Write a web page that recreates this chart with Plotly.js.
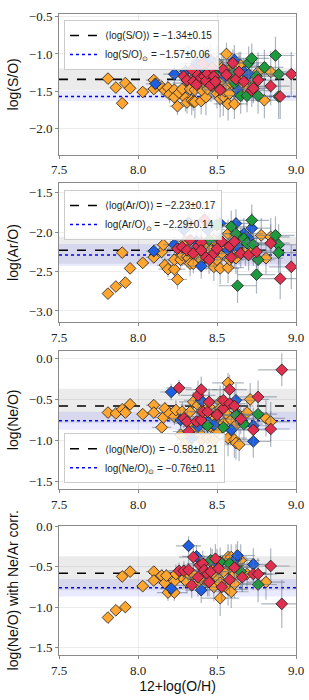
<!DOCTYPE html>
<html><head><meta charset="utf-8">
<script src="https://cdn.plot.ly/plotly-3.0.1.min.js"></script>
<style>html,body{margin:0;padding:0;background:#fff;}#plot{width:309px;height:700px;}</style>
</head><body><div id="plot"></div>
<script>
// ---------- data: rows are [12+log(O/H), log ratio, x error, y error] ----------
const s_orange = [[7.81,-1.33,0.03,0.04],[7.86,-1.45,0.03,0.04],[7.90,-1.66,0.03,0.05],[7.92,-1.39,0.03,0.04],[7.95,-1.46,0.03,0.04],[8.03,-1.51,0.04,0.05],[8.10,-1.35,0.05,0.06],[8.10,-1.47,0.05,0.06],[8.15,-1.44,0.06,0.08],[8.17,-1.49,0.05,0.07],[8.19,-1.45,0.07,0.10],[8.20,-1.54,0.06,0.12],[8.23,-1.48,0.08,0.10],[8.23,-1.58,0.06,0.15],[8.25,-1.70,0.05,0.12],[8.26,-1.52,0.07,0.10],[8.28,-1.47,0.10,0.12],[8.30,-1.59,0.08,0.18],[8.31,-1.65,0.06,0.15],[8.32,-1.39,0.10,0.20],[8.33,-1.47,0.09,0.14],[8.34,-1.62,0.07,0.20],[8.34,-1.35,0.08,0.15],[8.35,-1.64,0.06,0.12],[8.36,-1.64,0.08,0.22],[8.36,-1.48,0.10,0.16],[8.38,-1.26,0.12,0.20],[8.40,-1.63,0.07,0.18],[8.40,-1.34,0.09,0.15],[8.41,-1.50,0.08,0.12],[8.42,-1.39,0.11,0.18],[8.43,-1.58,0.09,0.24],[8.44,-1.47,0.08,0.14],[8.45,-1.25,0.10,0.16],[8.46,-1.30,0.12,0.20],[8.47,-1.42,0.09,0.15],[8.48,-1.15,0.10,0.18],[8.48,-1.39,0.11,0.22],[8.49,-1.30,0.08,0.14],[8.50,-1.53,0.09,0.20],[8.50,-1.11,0.12,0.22],[8.51,-1.35,0.10,0.18],[8.51,-1.25,0.09,0.16],[8.52,-1.46,0.11,0.22],[8.52,-1.60,0.08,0.25],[8.53,-1.19,0.10,0.16],[8.54,-1.57,0.12,0.26],[8.54,-1.36,0.09,0.15],[8.55,-1.50,0.10,0.20],[8.56,-1.00,0.08,0.15],[8.57,-1.42,0.12,0.24],[8.57,-1.23,0.10,0.18],[8.57,-1.67,0.09,0.22],[8.58,-1.53,0.11,0.20],[8.59,-1.39,0.10,0.18],[8.60,-1.30,0.12,0.22],[8.61,-1.21,0.10,0.16],[8.61,-1.35,0.13,0.24],[8.61,-1.67,0.08,0.20],[8.62,-1.46,0.11,0.22],[8.62,-1.28,0.09,0.16],[8.64,-1.17,0.12,0.20],[8.65,-1.39,0.10,0.22],[8.65,-1.15,0.11,0.18],[8.66,-1.28,0.09,0.16],[8.66,-1.40,0.12,0.24],[8.68,-1.37,0.10,0.20],[8.69,-1.47,0.11,0.22],[8.70,-1.28,0.12,0.24],[8.73,-1.44,0.10,0.20],[8.76,-1.24,0.12,0.26],[8.80,-1.62,0.10,0.24],[8.84,-1.24,0.12,0.28]];
const s_blue = [[8.11,-1.40,0.06,0.08],[8.23,-1.27,0.07,0.12],[8.30,-1.23,0.09,0.14],[8.37,-1.13,0.10,0.18],[8.40,-1.20,0.08,0.16],[8.42,-1.10,0.11,0.20],[8.44,-1.08,0.10,0.18],[8.46,-1.08,0.12,0.22],[8.49,-1.22,0.09,0.16],[8.55,-1.30,0.10,0.20],[8.61,-1.08,0.12,0.20],[8.63,-1.48,0.10,0.22],[8.67,-1.24,0.11,0.18],[8.70,-1.27,0.12,0.20]];
const s_blue_faint = [[8.32,-0.96,0,0]];
const s_green = [[8.46,-1.21,0.10,0.16],[8.48,-1.26,0.09,0.18],[8.60,-1.26,0.11,0.20],[8.61,-1.39,0.10,0.22],[8.65,-1.56,0.12,0.24],[8.69,-1.56,0.10,0.22],[8.70,-1.12,0.12,0.22],[8.72,-1.06,0.11,0.20],[8.75,-1.30,0.12,0.22],[8.76,-1.56,0.11,0.24],[8.80,-1.18,0.12,0.24],[8.87,-1.02,0.12,0.25],[8.89,-1.27,0.12,0.28],[8.89,-1.57,0.13,0.30]];
const s_red = [[8.29,-1.30,0.08,0.12],[8.31,-1.35,0.09,0.14],[8.34,-1.21,0.10,0.16],[8.35,-1.37,0.08,0.14],[8.37,-1.41,0.09,0.16],[8.38,-1.28,0.10,0.18],[8.40,-1.32,0.09,0.16],[8.41,-1.13,0.11,0.20],[8.42,-1.30,0.10,0.18],[8.43,-1.36,0.09,0.16],[8.44,-1.26,0.11,0.18],[8.46,-1.42,0.10,0.20],[8.47,-1.19,0.12,0.20],[8.48,-1.30,0.09,0.16],[8.49,-1.37,0.10,0.18],[8.52,-1.48,0.11,0.22],[8.54,-1.21,0.10,0.18],[8.56,-1.28,0.12,0.20],[8.60,-1.12,0.11,0.18],[8.62,-1.34,0.10,0.20],[8.64,-1.24,0.12,0.22],[8.67,-1.37,0.11,0.20],[8.72,-1.49,0.12,0.22],[8.73,-1.46,0.10,0.20],[8.76,-1.35,0.12,0.24],[8.84,-1.43,0.12,0.26],[8.90,-1.57,0.13,0.30],[8.97,-1.27,0.14,0.30]];

const a_orange = [[7.81,-2.78,0.03,0.06],[7.86,-2.69,0.03,0.05],[7.90,-2.26,0.03,0.05],[7.92,-2.64,0.03,0.05],[7.95,-2.46,0.03,0.05],[8.03,-2.39,0.04,0.06],[8.10,-2.32,0.05,0.07],[8.15,-2.25,0.06,0.08],[8.16,-2.16,0.06,0.08],[8.17,-2.42,0.05,0.10],[8.19,-2.47,0.06,0.10],[8.23,-2.47,0.07,0.12],[8.23,-2.35,0.08,0.10],[8.25,-2.60,0.06,0.12],[8.27,-2.35,0.08,0.12],[8.28,-2.29,0.09,0.14],[8.30,-2.12,0.10,0.12],[8.31,-2.31,0.08,0.14],[8.32,-2.33,0.09,0.12],[8.33,-2.40,0.08,0.16],[8.34,-2.27,0.10,0.14],[8.35,-2.40,0.09,0.12],[8.38,-2.31,0.10,0.16],[8.40,-2.35,0.08,0.14],[8.40,-2.18,0.11,0.16],[8.42,-2.25,0.09,0.14],[8.44,-2.16,0.10,0.16],[8.46,-2.31,0.11,0.18],[8.46,-2.23,0.09,0.14],[8.48,-2.44,0.10,0.18],[8.48,-2.10,0.11,0.16],[8.50,-2.35,0.09,0.16],[8.51,-2.16,0.10,0.14],[8.52,-2.46,0.12,0.20],[8.53,-2.27,0.10,0.16],[8.54,-2.18,0.11,0.18],[8.57,-2.45,0.10,0.20],[8.57,-2.02,0.12,0.18],[8.58,-2.35,0.09,0.16],[8.59,-2.25,0.11,0.18],[8.61,-2.29,0.10,0.16],[8.61,-2.21,0.12,0.18],[8.62,-2.33,0.10,0.20],[8.64,-2.23,0.11,0.18],[8.65,-2.14,0.12,0.20],[8.68,-2.25,0.10,0.18],[8.73,-2.23,0.12,0.20],[8.78,-2.04,0.12,0.22],[8.81,-2.33,0.11,0.20],[8.84,-2.06,0.12,0.24]];
const a_blue = [[8.10,-2.24,0.05,0.08],[8.23,-2.16,0.07,0.10],[8.29,-1.97,0.09,0.14],[8.32,-1.88,0.08,0.12],[8.37,-2.12,0.10,0.14],[8.40,-2.43,0.09,0.16],[8.44,-1.97,0.11,0.18],[8.45,-1.91,0.10,0.16],[8.52,-1.89,0.12,0.20],[8.57,-2.23,0.10,0.16],[8.62,-1.89,0.11,0.18],[8.63,-2.18,0.10,0.16],[8.67,-2.02,0.12,0.20],[8.70,-2.08,0.11,0.18],[8.72,-1.95,0.12,0.20]];
const a_green = [[8.45,-2.10,0.10,0.16],[8.50,-1.91,0.11,0.18],[8.52,-2.10,0.10,0.16],[8.59,-1.93,0.12,0.20],[8.62,-2.02,0.11,0.18],[8.63,-2.68,0.12,0.22],[8.67,-2.08,0.10,0.18],[8.69,-2.14,0.12,0.20],[8.72,-1.85,0.11,0.20],[8.73,-2.16,0.12,0.22],[8.75,-2.54,0.12,0.24],[8.76,-2.35,0.11,0.22],[8.87,-2.04,0.12,0.24],[8.89,-2.16,0.12,0.26],[8.89,-2.26,0.13,0.26]];
const a_red = [[8.25,-2.21,0.08,0.12],[8.28,-2.19,0.09,0.14],[8.31,-2.23,0.08,0.14],[8.33,-2.10,0.10,0.16],[8.35,-2.27,0.09,0.14],[8.38,-2.18,0.10,0.16],[8.40,-2.13,0.09,0.16],[8.40,-2.23,0.10,0.14],[8.42,-1.84,0.11,0.18],[8.43,-2.32,0.09,0.16],[8.45,-2.35,0.10,0.18],[8.48,-2.27,0.11,0.18],[8.50,-2.21,0.10,0.16],[8.53,-2.12,0.11,0.18],[8.58,-2.18,0.10,0.16],[8.59,-2.32,0.11,0.18],[8.61,-2.12,0.12,0.20],[8.65,-2.27,0.11,0.18],[8.70,-2.29,0.12,0.20],[8.75,-2.25,0.11,0.20],[8.84,-2.14,0.12,0.24],[8.90,-2.59,0.13,0.26],[8.97,-2.44,0.14,0.28]];

const n_orange = [[7.81,-0.66,0.03,0.04],[7.86,-0.67,0.03,0.04],[7.90,-0.62,0.03,0.04],[7.92,-0.66,0.03,0.04],[7.95,-0.56,0.03,0.04],[8.03,-0.68,0.04,0.05],[8.10,-0.57,0.05,0.06],[8.10,-0.66,0.05,0.06],[8.15,-0.84,0.06,0.08],[8.16,-0.72,0.06,0.07],[8.17,-0.61,0.06,0.08],[8.20,-0.67,0.07,0.10],[8.23,-0.71,0.08,0.10],[8.24,-0.63,0.07,0.12],[8.27,-0.93,0.08,0.14],[8.28,-0.65,0.09,0.12],[8.30,-1.04,0.07,0.14],[8.32,-0.79,0.09,0.16],[8.33,-0.65,0.10,0.14],[8.35,-0.53,0.09,0.12],[8.35,-0.87,0.10,0.16],[8.38,-0.57,0.11,0.16],[8.39,-0.91,0.09,0.18],[8.40,-0.99,0.10,0.20],[8.40,-0.65,0.09,0.14],[8.42,-0.79,0.10,0.16],[8.44,-0.97,0.11,0.20],[8.44,-0.71,0.10,0.16],[8.45,-0.59,0.11,0.18],[8.46,-0.83,0.10,0.18],[8.48,-0.99,0.12,0.20],[8.48,-0.75,0.09,0.16],[8.50,-0.89,0.11,0.18],[8.51,-0.65,0.10,0.16],[8.52,-0.53,0.12,0.20],[8.52,-0.61,0.10,0.16],[8.54,-0.79,0.11,0.18],[8.56,-0.67,0.10,0.16],[8.57,-0.97,0.12,0.22],[8.57,-0.30,0.10,0.12],[8.59,-0.75,0.11,0.18],[8.61,-0.99,0.12,0.22],[8.61,-0.83,0.10,0.18],[8.62,-1.03,0.11,0.20],[8.63,-0.67,0.12,0.20],[8.64,-1.05,0.10,0.20],[8.69,-0.66,0.11,0.20],[8.71,-0.50,0.12,0.20],[8.81,-0.73,0.12,0.22],[8.84,-0.77,0.12,0.24]];
const n_blue = [[8.21,-0.41,0.07,0.10],[8.27,-0.75,0.08,0.12],[8.34,-0.97,0.09,0.16],[8.38,-0.83,0.10,0.16],[8.40,-0.51,0.11,0.18],[8.44,-0.77,0.10,0.16],[8.48,-0.81,0.11,0.18],[8.59,-0.87,0.10,0.18],[8.62,-0.51,0.12,0.20],[8.63,-0.69,0.11,0.18],[8.73,-0.82,0.12,0.22],[8.73,-1.01,0.11,0.20]];
const n_green = [[8.44,-0.82,0.10,0.18],[8.54,-0.84,0.11,0.18],[8.62,-0.69,0.10,0.18],[8.67,-0.80,0.12,0.20],[8.76,-0.68,0.12,0.22]];
const n_red = [[8.26,-0.36,0.08,0.10],[8.29,-0.73,0.09,0.12],[8.31,-0.77,0.09,0.14],[8.32,-0.89,0.10,0.16],[8.37,-0.77,0.10,0.16],[8.38,-0.45,0.11,0.18],[8.40,-0.38,0.10,0.16],[8.40,-0.75,0.09,0.14],[8.41,-0.65,0.10,0.16],[8.44,-0.65,0.11,0.18],[8.45,-0.53,0.10,0.16],[8.50,-0.69,0.11,0.18],[8.54,-0.61,0.10,0.16],[8.54,-0.51,0.12,0.20],[8.58,-0.38,0.11,0.18],[8.58,-0.55,0.10,0.16],[8.61,-0.58,0.12,0.20],[8.65,-0.74,0.11,0.18],[8.73,-0.87,0.12,0.22],[8.76,-0.47,0.12,0.20],[8.84,-0.86,0.12,0.22],[8.91,-0.14,0.15,0.20]];

const c_orange = [[7.81,-1.13,0.03,0.05],[7.86,-1.04,0.03,0.05],[7.90,-0.62,0.03,0.04],[7.92,-1.00,0.03,0.05],[7.95,-0.56,0.03,0.04],[8.03,-0.74,0.04,0.05],[8.10,-0.56,0.05,0.06],[8.10,-0.67,0.05,0.06],[8.15,-0.61,0.06,0.08],[8.17,-0.70,0.06,0.08],[8.18,-0.61,0.06,0.08],[8.19,-0.82,0.07,0.10],[8.23,-0.82,0.08,0.10],[8.23,-0.68,0.07,0.10],[8.24,-0.59,0.08,0.12],[8.29,-0.65,0.09,0.12],[8.31,-0.69,0.08,0.14],[8.32,-0.59,0.09,0.14],[8.35,-0.59,0.10,0.14],[8.38,-0.71,0.09,0.16],[8.40,-0.65,0.10,0.16],[8.43,-0.59,0.11,0.16],[8.44,-0.69,0.10,0.18],[8.47,-0.46,0.11,0.18],[8.48,-0.59,0.10,0.16],[8.48,-0.75,0.11,0.18],[8.51,-0.65,0.10,0.16],[8.52,-0.89,0.12,0.22],[8.52,-0.70,0.10,0.18],[8.54,-0.56,0.11,0.18],[8.57,-0.78,0.12,0.20],[8.57,-0.38,0.10,0.16],[8.59,-0.81,0.11,0.20],[8.59,-0.50,0.12,0.18],[8.59,-0.38,0.10,0.16],[8.61,-0.71,0.11,0.18],[8.61,-0.59,0.12,0.20],[8.63,-0.48,0.11,0.18],[8.65,-0.42,0.12,0.20],[8.66,-0.61,0.11,0.20],[8.69,-0.59,0.12,0.20],[8.81,-0.69,0.12,0.22]];
const c_blue = [[8.21,-0.77,0.07,0.10],[8.32,-0.24,0.08,0.12],[8.37,-0.37,0.09,0.14],[8.40,-0.79,0.10,0.16],[8.50,-0.46,0.11,0.18],[8.61,-0.50,0.10,0.16],[8.62,-0.40,0.12,0.18],[8.63,-0.36,0.11,0.18],[8.73,-0.47,0.12,0.20]];
const c_green = [[8.46,-0.42,0.10,0.16],[8.52,-0.44,0.11,0.18],[8.58,-0.46,0.10,0.16],[8.65,-0.56,0.12,0.20],[8.76,-0.72,0.12,0.22]];
const c_red = [[8.26,-0.55,0.08,0.10],[8.29,-0.55,0.09,0.12],[8.32,-0.54,0.09,0.14],[8.34,-0.73,0.10,0.16],[8.35,-0.38,0.09,0.14],[8.38,-0.63,0.10,0.16],[8.39,-0.48,0.11,0.16],[8.41,-0.46,0.10,0.16],[8.42,-0.54,0.11,0.18],[8.44,-0.59,0.10,0.16],[8.45,-0.69,0.11,0.18],[8.46,-0.56,0.10,0.16],[8.49,-0.40,0.11,0.18],[8.51,-0.52,0.10,0.16],[8.53,-0.75,0.12,0.20],[8.58,-0.66,0.11,0.18],[8.61,-0.51,0.12,0.20],[8.66,-0.63,0.11,0.18],[8.73,-0.59,0.12,0.20],[8.76,-0.59,0.12,0.20],[8.84,-0.49,0.12,0.22],[8.91,-0.96,0.13,0.30]];

// summary statistics per panel
const ratioNames = ['S/O','Ar/O','Ne/O','Ne/O'];
const yTitles = ['log(S/O)','log(Ar/O)','log(Ne/O)','log(Ne/O) with Ne/Ar corr.'];
const meanVals = [-1.34,-2.23,-0.58,-0.58];
const meanErrs = [0.15,0.17,0.21,0.21];
const solarVals = [-1.57,-2.29,-0.76,-0.76];
const solarErrs = [0.06,0.14,0.11,0.11];
const xRange = [7.5, 9.0];
const xTicks = [7.5, 8.0, 8.5, 9.0];
const yTicks = [[-0.5,-1.0,-1.5,-2.0],[-1.5,-2.0,-2.5,-3.0],[0.0,-0.5,-1.0,-1.5],[0.0,-0.5,-1.0,-1.5]];

// ---------- styling ----------
const COLORS = {orange:'#FFA630', blue:'#1D5FE0', green:'#1E9A3E', red:'#E0304F'};
const panelData = [
  {orange:s_orange, blue:s_blue, green:s_green, red:s_red},
  {orange:a_orange, blue:a_blue, green:a_green, red:a_red},
  {orange:n_orange, blue:n_blue, green:n_green, red:n_red},
  {orange:c_orange, blue:c_blue, green:c_green, red:c_red}
];
const yRanges = [[-2.35,-0.464],[-3.14,-1.377],[-1.589,0.092],[-1.595,0.01]];
const yDomains = [[0.7805,1.0],[0.5195,0.7363],[0.259,0.4747],[0,0.2017]];
const legendNames = ['legend','legend2','legend3',null];
const SERIF = 'Liberation Serif';
const SANS = 'Liberation Sans';

function fmt(v){ return (v<0?'\u2212':'')+Math.abs(v).toFixed(2); }

const traces = [];
const shapes = [];
const layout = {
  width:309, height:700,
  margin:{l:59,r:13,t:14,b:45},
  paper_bgcolor:'white', plot_bgcolor:'white',
  font:{family:SANS, color:'#111'},
  showlegend:true
};
const errColor = 'rgba(105,120,140,0.55)';

panelData.forEach((pd, i) => {
  const sfx = i===0 ? '' : String(i+1);
  const xa = 'x'+sfx, ya = 'y'+sfx;
  const lg = legendNames[i];
  shapes.push({type:'rect', layer:'below', xref:xa+' domain', x0:0, x1:1, yref:ya,
    y0:meanVals[i]-meanErrs[i], y1:meanVals[i]+meanErrs[i], fillcolor:'rgba(128,128,128,0.16)', line:{width:0}});
  shapes.push({type:'rect', layer:'below', xref:xa+' domain', x0:0, x1:1, yref:ya,
    y0:solarVals[i]-solarErrs[i], y1:solarVals[i]+solarErrs[i], fillcolor:'rgba(40,40,255,0.10)', line:{width:0}});
  traces.push({type:'scatter', mode:'lines', x:xRange, y:[meanVals[i],meanVals[i]], xaxis:xa, yaxis:ya,
    line:{color:'black', width:1.6, dash:'dash'},
    name:'\u27E8log('+ratioNames[i]+')\u27E9 = '+fmt(meanVals[i])+'\u00B1'+meanErrs[i].toFixed(2),
    showlegend: lg!==null, legend: lg||'legend', hoverinfo:'skip'});
  traces.push({type:'scatter', mode:'lines', x:xRange, y:[solarVals[i],solarVals[i]], xaxis:xa, yaxis:ya,
    line:{color:'#0000ff', width:1.6, dash:'dot'},
    name:'log('+ratioNames[i]+')<sub>\u2299</sub> = '+fmt(solarVals[i])+'\u00B1'+solarErrs[i].toFixed(2),
    showlegend: lg!==null, legend: lg||'legend', hoverinfo:'skip'});
  ['orange','blue','green','red'].forEach(c => {
    const rows = pd[c];
    traces.push({type:'scatter', mode:'markers', xaxis:xa, yaxis:ya, showlegend:false,
      x:rows.map(r=>r[0]), y:rows.map(r=>r[1]),
      error_x:{type:'data', array:rows.map(r=>r[2]), color:errColor, thickness:1.2, width:0},
      error_y:{type:'data', array:rows.map(r=>r[3]), color:errColor, thickness:1.2, width:0},
      marker:{symbol:'diamond', size:9, color:COLORS[c], line:{color:'#1a1a1a', width:0.8}}});
  });
  if (i===0) {
    traces.push({type:'scatter', mode:'markers', xaxis:xa, yaxis:ya, showlegend:false,
      x:s_blue_faint.map(r=>r[0]), y:s_blue_faint.map(r=>r[1]),
      marker:{symbol:'diamond', size:9, color:'rgba(29,95,224,0.3)', line:{color:'rgba(0,0,0,0.25)', width:0.8}}});
  }
  layout['xaxis'+sfx] = {anchor:ya, domain:[0,1], range:xRange, tickvals:xTicks, ticktext:xTicks.map(v=>v.toFixed(1)),
    showline:true, mirror:true, linecolor:'#8a8a8a', linewidth:1, ticks:'outside', ticklen:3, tickcolor:'#8a8a8a',
    showgrid:true, gridcolor:'rgba(0,0,0,0.07)', gridwidth:1, zeroline:false,
    tickfont:{family:SERIF, size:13, color:'#222'}};
  layout['yaxis'+sfx] = {anchor:xa, domain:yDomains[i], range:yRanges[i], tickvals:yTicks[i], ticktext:yTicks[i].map(v=>(v<0?'\u2212':'')+Math.abs(v).toFixed(1)),
    showline:true, mirror:true, linecolor:'#8a8a8a', linewidth:1, ticks:'outside', ticklen:3, tickcolor:'#8a8a8a',
    showgrid:true, gridcolor:'rgba(0,0,0,0.07)', gridwidth:1, zeroline:false,
    tickfont:{family:SERIF, size:13, color:'#222'},
    title:{text:yTitles[i], font:{family:SANS, size:14, color:'#111'}, standoff:6}};
});
layout.xaxis4.title = {text:'12+log(O/H)', font:{family:SANS, size:14, color:'#111'}, standoff:4};
layout.shapes = shapes;
const legBase = {xref:'paper', yref:'paper', x:0.021, xanchor:'left', bgcolor:'rgba(255,255,255,0.85)',
  bordercolor:'#cccccc', borderwidth:1, font:{family:SANS, size:10, color:'#222'},
  itemwidth:30, tracegroupgap:0};
layout.legend = Object.assign({}, legBase, {y:0.9906, yanchor:'top'});
layout.legend2 = Object.assign({}, legBase, {y:0.7254, yanchor:'top'});
layout.legend3 = Object.assign({}, legBase, {y:0.268, yanchor:'bottom'});

Plotly.newPlot('plot', traces, layout, {staticPlot:true, displayModeBar:false});
</script></body></html>
